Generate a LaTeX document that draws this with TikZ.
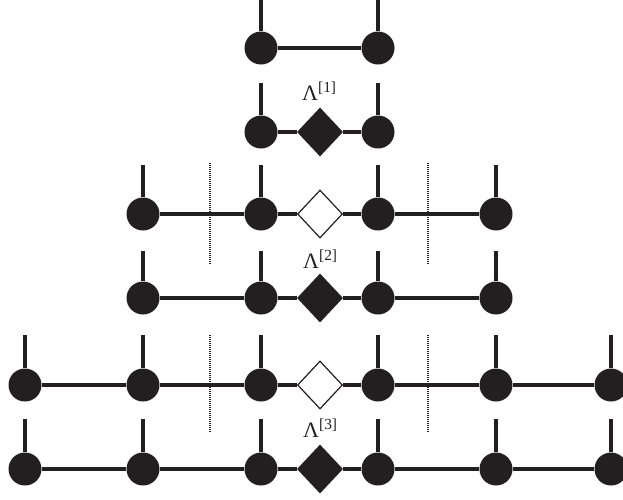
\documentclass[tikz,border=0pt]{standalone}
\usepackage{fontspec}
\setmainfont{Liberation Serif}
\usetikzlibrary{shapes.geometric}
\definecolor{ink}{RGB}{35,31,32}
\begin{document}
\begin{tikzpicture}[x=1pt,y=-1pt,
  dot/.style={circle,fill=ink,draw=none,minimum size=33pt,inner sep=0pt},
  fdia/.style={diamond,fill=ink,draw=none,minimum width=46pt,minimum height=49pt,inner sep=0pt},
  odia/.style={diamond,fill=white,draw=ink,line width=1.2pt,minimum width=45pt,minimum height=48pt,inner sep=0pt},
  bond/.style={draw=ink,line width=3.2pt},
  cut/.style={draw=ink,line width=1.3pt,dash pattern=on 1pt off 1pt},
  lab/.style={anchor=base west,inner sep=0pt,text=ink,font=\fontsize{22}{24}\selectfont}]
\useasboundingbox (0,0) rectangle (623,499);
% row 1
\node[dot] (a1) at (261,48) {};
\node[dot] (a2) at (378,48) {};
\coordinate (ta1) at (261,0); \coordinate (ta2) at (378,0);
\draw[bond] (ta1) -- (a1); \draw[bond] (ta2) -- (a2);
\draw[bond] (a1) -- (a2);
% row 2
\node[dot] (b1) at (261,132) {};
\node[fdia] (bd) at (320,132) {};
\node[dot] (b2) at (378,132) {};
\coordinate (tb1) at (261,83); \coordinate (tb2) at (378,83);
\draw[bond] (tb1) -- (b1); \draw[bond] (tb2) -- (b2);
\draw[bond] (b1) -- (bd); \draw[bond] (bd) -- (b2);
\node[lab] (l1) at (302,100) {Λ\textsuperscript{[1]}};
% row 3
\foreach \i/\x in {1/143,2/261,3/378,4/496}{
  \node[dot] (c\i) at (\x,214) {};
  \coordinate (tc\i) at (\x,165);
  \draw[bond] (tc\i) -- (c\i);
  \node[dot] (d\i) at (\x,298) {};
  \coordinate (td\i) at (\x,251);
  \draw[bond] (td\i) -- (d\i);
}
\node[odia] (cd) at (320,214) {};
\node[fdia] (dd) at (320,298) {};
\draw[bond] (c1) -- (c2); \draw[bond] (c2) -- (cd); \draw[bond] (cd) -- (c3); \draw[bond] (c3) -- (c4);
\draw[bond] (d1) -- (d2); \draw[bond] (d2) -- (dd); \draw[bond] (dd) -- (d3); \draw[bond] (d3) -- (d4);
\coordinate (p1a) at (210,163); \coordinate (p1b) at (210,265);
\coordinate (p2a) at (428,163); \coordinate (p2b) at (428,265);
\draw[cut] (p1a) -- (p1b); \draw[cut] (p2a) -- (p2b);
\node[lab] (l2) at (303,268) {Λ\textsuperscript{[2]}};
% rows 5,6
\foreach \i/\x in {1/25,2/143,3/261,4/378,5/496,6/611}{
  \node[dot] (e\i) at (\x,385) {};
  \coordinate (te\i) at (\x,335);
  \draw[bond] (te\i) -- (e\i);
  \node[dot] (f\i) at (\x,469) {};
  \coordinate (tf\i) at (\x,419);
  \draw[bond] (tf\i) -- (f\i);
}
\node[odia] (ed) at (320,385) {};
\node[fdia] (fd) at (320,469) {};
\draw[bond] (e1) -- (e2); \draw[bond] (e2) -- (e3); \draw[bond] (e3) -- (ed); \draw[bond] (ed) -- (e4); \draw[bond] (e4) -- (e5); \draw[bond] (e5) -- (e6);
\draw[bond] (f1) -- (f2); \draw[bond] (f2) -- (f3); \draw[bond] (f3) -- (fd); \draw[bond] (fd) -- (f4); \draw[bond] (f4) -- (f5); \draw[bond] (f5) -- (f6);
\coordinate (q1a) at (210,335); \coordinate (q1b) at (210,433);
\coordinate (q2a) at (428,335); \coordinate (q2b) at (428,433);
\draw[cut] (q1a) -- (q1b); \draw[cut] (q2a) -- (q2b);
\node[lab] (l3) at (303,437) {Λ\textsuperscript{[3]}};
\end{tikzpicture}
\end{document}
